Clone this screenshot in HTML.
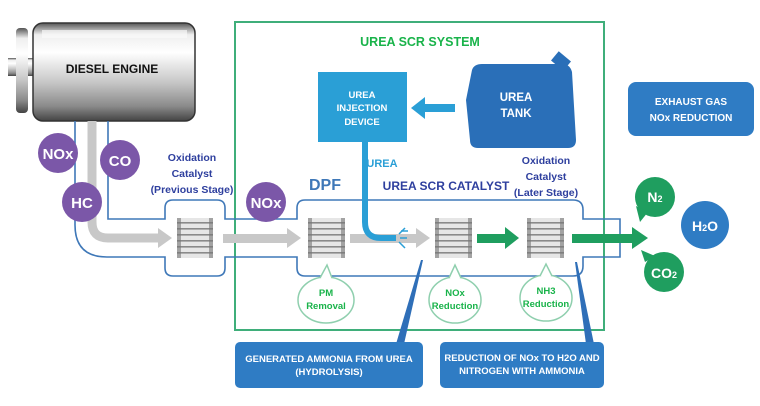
<!DOCTYPE html>
<html><head><meta charset="utf-8"><style>
html,body{margin:0;padding:0;background:#fff;width:760px;height:406px;overflow:hidden}
svg{display:block}
text{font-family:"Liberation Sans",sans-serif;font-weight:bold}
</style></head><body>
<svg width="760" height="406" viewBox="0 0 760 406" xmlns="http://www.w3.org/2000/svg">
<defs>
<linearGradient id="eng" x1="0" y1="0" x2="0" y2="1">
<stop offset="0" stop-color="#555"/><stop offset="0.12" stop-color="#eee"/><stop offset="0.3" stop-color="#fff"/><stop offset="0.6" stop-color="#c8c8c8"/><stop offset="0.85" stop-color="#8a8a8a"/><stop offset="1" stop-color="#444"/>
</linearGradient>
<linearGradient id="cat" x1="0" y1="0" x2="1" y2="0">
<stop offset="0" stop-color="#999"/><stop offset="0.3" stop-color="#ddd"/><stop offset="0.7" stop-color="#ddd"/><stop offset="1" stop-color="#888"/>
</linearGradient>
<pattern id="stripe" width="10" height="6" patternUnits="userSpaceOnUse"><rect width="10" height="6" fill="#e6e6e6"/><rect y="0" width="10" height="1.6" fill="#8a8a8a"/></pattern>
</defs>
<!-- green system box -->
<rect x="235" y="22" width="369" height="308" fill="none" stroke="#3fae7a" stroke-width="2"/>
<text x="420" y="46" text-anchor="middle" font-size="12.5" fill="#19b34a">UREA SCR SYSTEM</text>

<!-- engine -->
<rect x="8" y="58" width="30" height="18" fill="url(#eng)"/>
<rect x="16" y="28" width="12" height="85" rx="4" fill="url(#eng)"/>
<rect x="33" y="23" width="162" height="98" rx="10" fill="url(#eng)" stroke="#333" stroke-width="1.5"/>
<rect x="42" y="30" width="145" height="8" fill="#fafafa" opacity="0.7"/>
<text x="112" y="73" text-anchor="middle" font-size="12" fill="#111">DIESEL ENGINE</text>

<!-- pipe outlines -->
<g fill="none" stroke="#3f78b8" stroke-width="1.6">
<path d="M75 121 V225 Q75 257 107 257 H165 V268 Q165 276 173 276 H217 Q225 276 225 268 V257 H297 V268 Q297 276 305 276 H573 Q583 276 583 266 V257 H620 V219 H583 V210 Q583 200 573 200 H305 Q297 200 297 208 V219 H225 V208 Q225 200 217 200 H173 Q165 200 165 208 V219 H108 V121"/>
</g>
<!-- gray flow -->
<path d="M92 121 V222 Q92 238 108 238 H160" fill="none" stroke="#c8c8c8" stroke-width="9"/>
<polygon points="158,228 172,238 158,248" fill="#c8c8c8"/>
<rect x="223" y="234" width="66" height="9" fill="#c8c8c8"/>
<polygon points="287,228 301,238 287,248" fill="#c8c8c8"/>
<rect x="350" y="234" width="68" height="9" fill="#c8c8c8"/>
<polygon points="416,228 430,238 416,248" fill="#c8c8c8"/>
<!-- urea pipe -->
<path d="M365 140 V222 Q365 238 381 238 H396" fill="none" stroke="#2a9fd6" stroke-width="6"/>
<g stroke="#2a9fd6" stroke-width="1.5"><line x1="399" y1="234" x2="405" y2="228"/><line x1="400" y1="238" x2="407" y2="238"/><line x1="399" y1="242" x2="405" y2="248"/><line x1="401" y1="231" x2="408" y2="231"/></g>
<!-- green flow -->
<rect x="477" y="234" width="30" height="9" fill="#1f9e5f"/>
<polygon points="505,227 519,238 505,249" fill="#1f9e5f"/>
<rect x="572" y="234" width="62" height="9" fill="#1f9e5f"/>
<polygon points="632,227 648,238 632,249" fill="#1f9e5f"/>

<!-- catalysts -->
<g>
<rect x="177" y="218" width="36" height="40" fill="url(#stripe)"/>
<rect x="308" y="218" width="37" height="40" fill="url(#stripe)"/>
<rect x="435" y="218" width="37" height="40" fill="url(#stripe)"/>
<rect x="527" y="218" width="37" height="40" fill="url(#stripe)"/>
<g fill="#777" opacity="0.6"><rect x="177" y="218" width="4" height="40"/><rect x="209" y="218" width="4" height="40"/><rect x="308" y="218" width="4" height="40"/><rect x="341" y="218" width="4" height="40"/><rect x="435" y="218" width="4" height="40"/><rect x="468" y="218" width="4" height="40"/><rect x="527" y="218" width="4" height="40"/><rect x="560" y="218" width="4" height="40"/></g>
</g>

<!-- purple bubbles -->
<g fill="#7b57a8">
<circle cx="58" cy="153" r="20"/><circle cx="120" cy="160" r="20"/><circle cx="82" cy="202" r="20"/><circle cx="266" cy="202" r="20"/>
</g>
<g fill="#fff" font-size="15" text-anchor="middle">
<text x="58" y="159">NOx</text><text x="120" y="166">CO</text><text x="82" y="208">HC</text><text x="266" y="208">NOx</text>
</g>

<!-- blue labels -->
<g fill="#2e3f9e" font-size="10.5" text-anchor="middle">
<text x="192" y="161">Oxidation</text><text x="192" y="177">Catalyst</text><text x="192" y="193">(Previous Stage)</text>
<text x="546" y="164">Oxidation</text><text x="546" y="180">Catalyst</text><text x="546" y="196">(Later Stage)</text>
<text x="446" y="190" font-size="12">UREA SCR CATALYST</text>
</g>
<text x="325" y="190" font-size="16" fill="#3f78b8" text-anchor="middle" font-weight="normal">DPF</text>
<text x="382" y="167" font-size="11" fill="#2a9fd6" text-anchor="middle">UREA</text>

<!-- injection device -->
<rect x="318" y="72" width="89" height="70" fill="#2a9fd6"/>
<g fill="#fff" font-size="9.5" text-anchor="middle"><text x="362" y="98">UREA</text><text x="362" y="111">INJECTION</text><text x="362" y="125">DEVICE</text></g>
<rect x="423" y="104" width="32" height="8" fill="#2a9fd6"/>
<polygon points="425,97 411,108 425,119" fill="#2a9fd6"/>
<!-- tank -->
<path d="M472 70 Q474 64 482 64 H562 Q570 64 572 72 L576 140 Q576 148 568 148 H478 Q470 148 470 140 L466 100 Z" fill="#2a6fb8"/>
<rect x="553" y="55" width="16" height="12" fill="#2a6fb8" transform="rotate(40 561 61)"/>
<g fill="#fff" font-size="11.5" text-anchor="middle"><text x="516" y="101">UREA</text><text x="516" y="117">TANK</text></g>

<!-- exhaust box -->
<rect x="628" y="82" width="126" height="54" rx="8" fill="#2f7cc4"/>
<g fill="#fff" font-size="10" text-anchor="middle"><text x="691" y="105">EXHAUST GAS</text><text x="691" y="121">NOx REDUCTION</text></g>

<!-- products -->
<circle cx="655" cy="197" r="20" fill="#1f9e5f"/>
<polygon points="636,206 640,222 648,212" fill="#1f9e5f"/>
<circle cx="664" cy="272" r="20" fill="#1f9e5f"/>
<polygon points="645,262 641,250 655,256" fill="#1f9e5f"/>
<circle cx="705" cy="225" r="24" fill="#2f7cc4"/>
<g fill="#fff" font-size="14" text-anchor="middle"><text x="655" y="202">N<tspan font-size="9">2</tspan></text><text x="664" y="278">CO<tspan font-size="9">2</tspan></text><text x="705" y="231">H<tspan font-size="9">2</tspan>O</text></g>

<!-- speech bubbles -->
<g fill="#fff" stroke="#8fcfae" stroke-width="1.5">
<ellipse cx="326" cy="300" rx="28" ry="23"/><ellipse cx="455" cy="300" rx="26" ry="23"/><ellipse cx="546" cy="298" rx="26" ry="23"/>
</g>
<g fill="#fff" stroke="#8fcfae" stroke-width="1.5"><path d="M320 278 L327 265 L332 278"/><path d="M449 278 L455 265 L461 278"/><path d="M540 276 L546 264 L552 276"/></g>
<g fill="#19b34a" font-size="9.5" text-anchor="middle">
<text x="326" y="296">PM</text><text x="326" y="309">Removal</text>
<text x="455" y="296">NOx</text><text x="455" y="309">Reduction</text>
<text x="546" y="294">NH3</text><text x="546" y="307">Reduction</text>
</g>

<!-- callout lines & boxes -->
<polygon points="421,260 423,260 404,344 396,344" fill="#2f6fb8"/>
<polygon points="575,262 577,262 594,344 586,344" fill="#2f6fb8"/>
<rect x="235" y="342" width="188" height="46" rx="5" fill="#2f7cc4"/>
<rect x="440" y="342" width="164" height="46" rx="5" fill="#2f7cc4"/>
<g fill="#fff" font-size="9.5" text-anchor="middle">
<text x="329" y="362">GENERATED AMMONIA FROM UREA</text><text x="329" y="375">(HYDROLYSIS)</text>
<text x="522" y="361">REDUCTION OF NOx TO H2O AND</text><text x="522" y="374">NITROGEN WITH AMMONIA</text>
</g>
</svg>
</body></html>
